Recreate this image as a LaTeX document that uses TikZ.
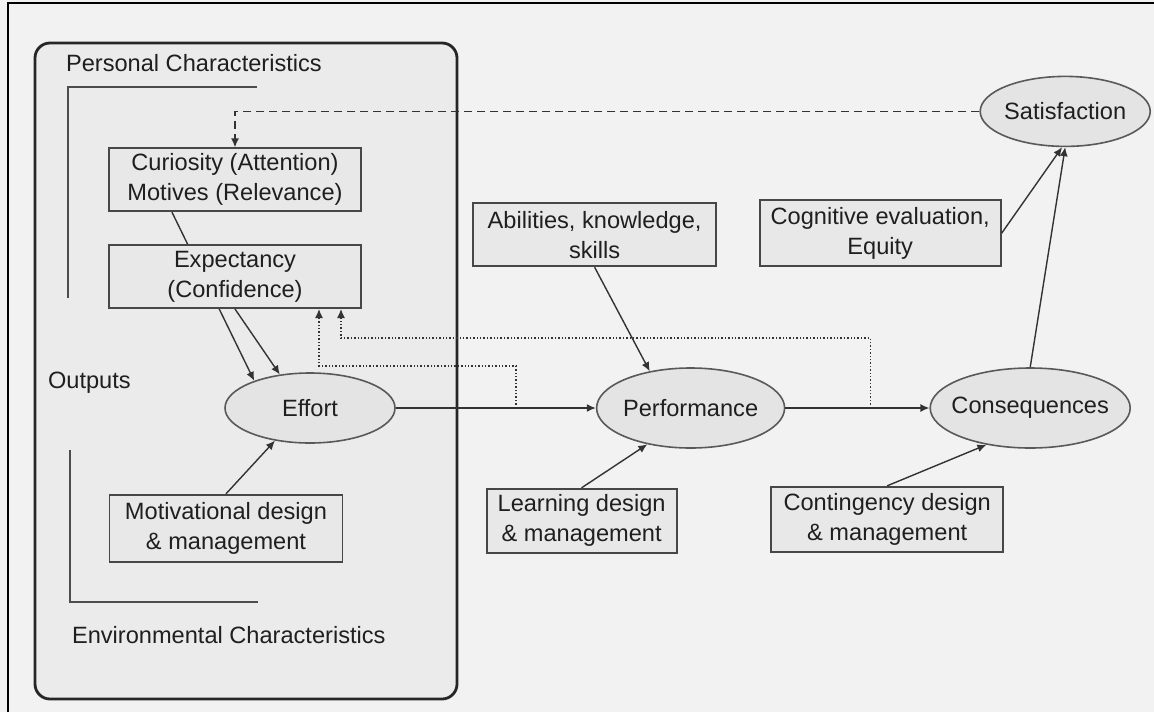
\documentclass[tikz,border=0pt]{standalone}
\usepackage{fontspec}
\setmainfont{Liberation Sans}
\usetikzlibrary{arrows.meta, positioning, shapes.geometric, backgrounds}

\definecolor{paper}{HTML}{F2F2F2}
\definecolor{panelgray}{HTML}{EBEBEB}
\definecolor{boxgray}{HTML}{E8E8E8}
\definecolor{ovalgray}{HTML}{E4E4E4}

\begin{document}
\begin{tikzpicture}[x=1pt, y=1pt, node distance=20pt,
        font=\fontsize{11.8}{15}\selectfont, text=black!88,
        factor/.style={draw=black!72, line width=0.9pt, fill=boxgray, align=center, inner sep=0pt},
        outcome/.style={ellipse, draw=black!65, line width=0.8pt, fill=ovalgray, inner xsep=-12pt, inner ysep=0pt},
        link/.style={-{Latex[length=4.5pt,width=4pt]}, line width=0.7pt, draw=black!80},
        loop/.style={link, densely dotted},
        bracket/.style={draw=black!70, line width=1pt},
        panel/.style={draw=black!85, line width=1.4pt, fill=panelgray, rounded corners=7.5pt}]
        \useasboundingbox (0,0) rectangle (577,-356);

        \node[outcome, minimum width=85pt, minimum height=35pt] (effort) at (155,-204) {Effort};
        \node[outcome, minimum width=94pt, minimum height=40pt, right=100pt of effort] (performance) {Performance};
        \node[outcome, minimum width=100pt, minimum height=40pt, right=72pt of performance] (consequences) {Consequences};
        \node[outcome, minimum width=85pt, minimum height=35pt, above=110pt of consequences, xshift=17.5pt] (satisfaction) {Satisfaction};

        \node[factor, minimum width=126pt, minimum height=31.5pt, above=80pt of effort, xshift=-37.5pt] (curiosity) {Curiosity (Attention)\\Motives (Relevance)};
        \node[factor, minimum width=126pt, minimum height=31.5pt, below=16pt of curiosity] (expectancy) {Expectancy\\(Confidence)};
        \node[factor, minimum width=116.5pt, minimum height=33.5pt, below=25pt of effort, xshift=-42pt] (motivational) {Motivational design\\\& management};
        \node[factor, minimum width=121.5pt, minimum height=31.5pt, above=50pt of performance, xshift=-48pt] (abilities) {Abilities, knowledge,\\skills};
        \node[factor, minimum width=95pt, minimum height=32pt, below=19.5pt of performance, xshift=-54.5pt] (learning) {Learning design\\\& management};
        \node[factor, minimum width=120.5pt, minimum height=33pt, above=50pt of consequences, xshift=-75pt] (cognitive) {Cognitive evaluation,\\Equity};
        \node[factor, minimum width=116pt, minimum height=32.5pt, below=18.5pt of consequences, xshift=-71.5pt] (contingency) {Contingency design\\\& management};

        \node[anchor=west] (personal) at (29.5,-31.5) {Personal Characteristics};
        \node[anchor=west] (outputs) at (20.5,-191.5) {Outputs};
        \node[anchor=west] (environmental) at (32.5,-317.5) {Environmental Characteristics};

        \draw[link] (expectancy.south) -- (effort.132);
        \draw[link] (motivational.north) -- (effort.-137);
        \draw[link] (effort) -- (performance);
        \draw[link] (performance) -- (consequences);
        \draw[link] (abilities.south) -- (performance.138);
        \draw[link] (learning.north) -- (performance.-140);
        \draw[link] (contingency.north) -- (consequences.220);
        \draw[link] (consequences.north) -- (satisfaction.south);
        \draw[link] (cognitive.east) -- (satisfaction.-95);

        % feedback loops
        \coordinate (tapA) at ([xshift=60pt]effort.east);
        \coordinate (tapB) at ([xshift=42.5pt]performance.east);
        \draw[loop] (tapA) -- ++(0,21) -| ([xshift=42pt]expectancy.south);
        \draw[loop] (tapB) -- ++(0,35) -| ([xshift=53pt]expectancy.south);
        \draw[link, dash pattern=on 4pt off 2.5pt] (satisfaction.west) -| (curiosity.north);

        \begin{scope}[on background layer]
            \fill[paper] (0,0) rectangle (577,-356);
            \draw[line width=1pt] (4,-356) -- (4,-1.5) -- (577,-1.5);
            \draw[panel] (17.5,-21.5) rectangle (228.5,-349.5);
            \draw[bracket] (34,-149) |- (128.5,-43.5);
            \draw[bracket] (35,-225) |- (129,-301);
            \draw[link] ([xshift=-31.5pt]curiosity.south) -- (effort.154);
        \end{scope}
    \end{tikzpicture}
\end{document}
